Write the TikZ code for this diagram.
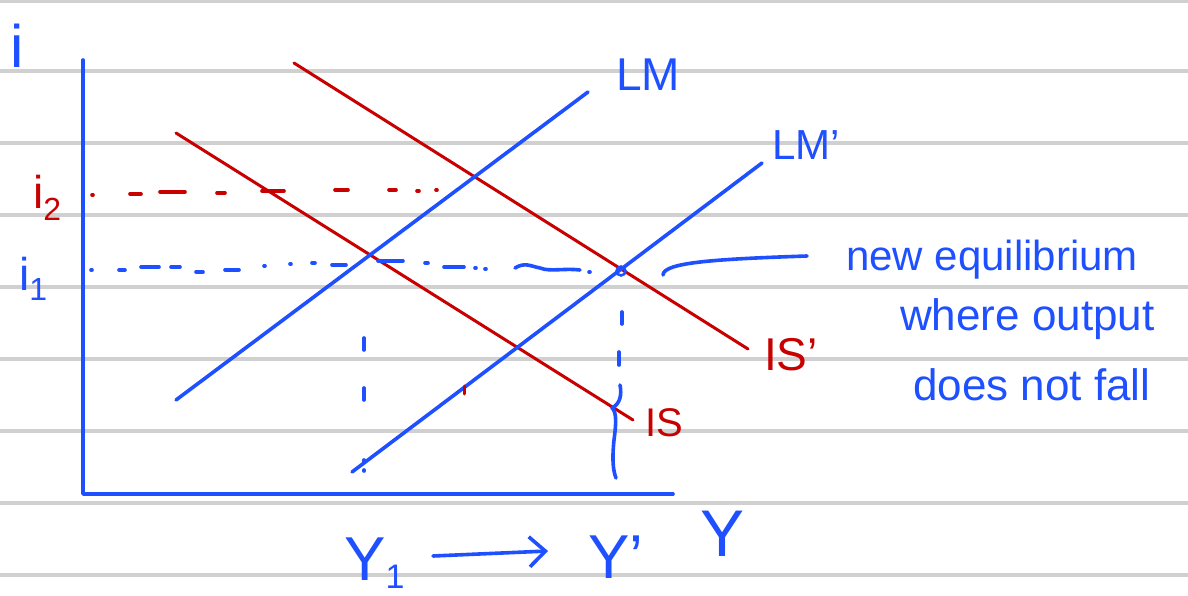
\documentclass[tikz,border=0pt]{standalone}
\usepackage{fontspec}
\setmainfont{Liberation Sans}
\usetikzlibrary{arrows.meta}
\definecolor{pen}{RGB}{30,80,255}
\definecolor{redpen}{RGB}{200,0,0}
\definecolor{ruling}{RGB}{208,208,208}
\newcommand{\fs}[1]{\fontsize{#1}{#1}\selectfont}
\begin{document}
\begin{tikzpicture}[x=1pt,y=-1pt,
  bluepen/.style={draw=pen,line width=3.6pt,line cap=round,line join=round},
  redline/.style={draw=redpen,line width=3pt,line cap=round,line join=round},
  bluedash/.style={draw=pen,line width=3.6pt,line cap=round},
  reddash/.style={draw=redpen,line width=3.6pt,line cap=round},
  bluetxt/.style={text=pen,inner sep=0pt,anchor=base west},
  redtxt/.style={text=redpen,inner sep=0pt,anchor=base west}]
\useasboundingbox (0,0) rectangle (1188,596);
\fill[white] (0,0) rectangle (1188,596);
% ruled paper
\foreach \y in {1,71,143,215,287,359,431,503,575}
  \draw[ruling,line width=3.2pt] (0,\y) -- (1188,\y);

% axes
\coordinate (ytop) at (83,60);
\coordinate (orig) at (83,494);
\coordinate (xend) at (673,494);
\draw[bluepen] (ytop) -- (orig) -- (xend);

% curves
\coordinate (lmA) at (176,400);  \coordinate (lmB) at (588,92);
\coordinate (lmpA) at (352,472); \coordinate (lmpB) at (762,163);
\coordinate (ispA) at (294,63);  \coordinate (ispB) at (748,349);
\coordinate (isA) at (176,133);  \coordinate (isB) at (633,420);
\draw[redline] (ispA) -- (ispB);
\draw[redline] (isA) -- (isB);
\draw[bluepen] (lmA) -- (lmB);
\draw[bluepen] (lmpA) -- (lmpB);

% i2 dashed (red)
\foreach \a/\b/\y in {92/93/195,130/141/194,160/185/192,217/225/193,262/284/191,335/348/190,389/396/190,417/419/191,436/437/190}
  \draw[reddash] (\a,\y) -- (\b,\y);

% i1 dashed (blue)
\foreach \a/\b/\y in {91/92/270,119/125/270,141/159/267,171/180/267,196/203/272,225/239/270,264/265/266,290/291/264,312/315/263,332/346/265,378/403/261,425/428/263,444/464/267,475/476/268,485/486/269,589/590/272}
  \draw[bluedash] (\a,\y) -- (\b,\y);
\draw[bluedash] (515,268) .. controls (525,262) and (530,266) .. (540,268) .. controls (550,272) and (565,268) .. (580,270);

% vertical dashes at Y1
\foreach \a/\b in {338/350,388/400,460/462,470/471}
  \draw[bluedash] (364,\a) -- (364,\b);
% red tick
\draw[redline] (464,386) -- (464,394);

% vertical at Y'
\draw[bluedash] (622,312) -- (622,324);
\draw[bluedash] (619,352) -- (619,365);
\draw[bluepen] (620,385) .. controls (622,395) and (620,404) .. (612,408)
  .. controls (617,412) and (616,425) .. (614,440)
  .. controls (612,460) and (613,470) .. (616,478);

% equilibrium dot and connector
\node[circle,draw=pen,line width=2.5pt,minimum size=9pt,inner sep=0pt] (eq) at (621,271) {};
\coordinate (cstart) at (663,275);
\node[bluetxt] (t1) at (846,270) {\fs{42}new equilibrium};
\node[bluetxt] (t2) at (900,330) {\fs{44}where output};
\node[bluetxt] (t3) at (913,400) {\fs{44}does not fall};
\coordinate (cend) at (807,256);
\draw[bluepen] (cstart) .. controls (663,262) and (720,259) .. (cend);

% labels
\node[bluetxt] (li) at (10,68) {\fs{60}i};
\node[redtxt] (li2) at (33,208) {\fs{46}i\raisebox{-12pt}{\fs{32}2}};
\node[bluetxt] (li1) at (19,290) {\fs{46}i\raisebox{-10pt}{\fs{32}1}};
\node[bluetxt] (lLM) at (616,91) {\fs{46}LM};
\node[bluetxt] (lLMp) at (772,160) {\fs{42}LM'};
\node[redtxt] (lISp) at (764,370) {\fs{46}IS'};
\node[redtxt] (lIS) at (645,436) {\fs{40}IS};
\node[bluetxt] (lY) at (700,556) {\fs{66}Y};
\node[bluetxt] (lY1) at (344,580) {\fs{62}Y\raisebox{-8pt}{\fs{34}1}};
\node[bluetxt] (lYp) at (588,578) {\fs{62}Y'};
\coordinate (arrS) at (433,556);
\coordinate (arrE) at (548,551);
\draw[bluepen,-{Straight Barb[length=16pt,width=30pt,line width=3.6pt]}] (arrS) -- (arrE);
\end{tikzpicture}
\end{document}
